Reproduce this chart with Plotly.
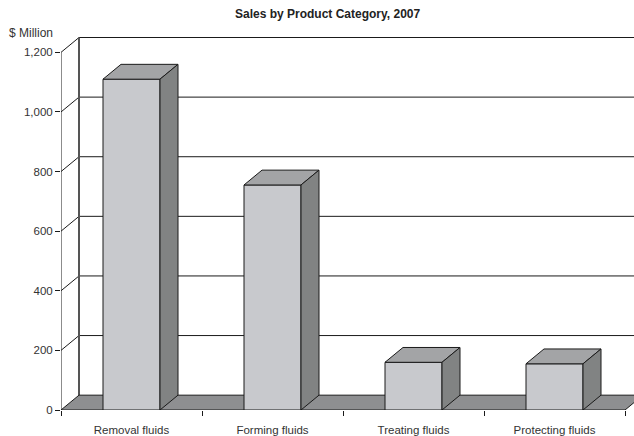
import plotly.graph_objects as go

# ---- data ----
categories = ["Removal fluids", "Forming fluids", "Treating fluids", "Protecting fluids"]
sales = [1110, 755, 160, 155]
y_ticks = [0, 200, 400, 600, 800, 1000, 1200]
y_tick_text = ["0", "200", "400", "600", "800", "1,000", "1,200"]

# ---- styling / geometry ----
W, H = 634, 436
ML, MR, MT, MB = 61, 0, 30, 22
plot_w = W - ML - MR
plot_h = H - MT - MB
px_per_cat = 141.0
x_lo = -0.5
x_hi = x_lo + plot_w / px_per_cat
y_lo, y_hi = 0, 1275
px_per_val = plot_h / (y_hi - y_lo)

DX = 18 / px_per_cat          # depth offset in x (category units)
DZ = 15 / px_per_val          # depth offset in y (value units)
HALF = 28.5 / px_per_cat      # half bar width

FRONT = "#c8c9cd"
TOP = "#a3a4a6"
SIDE = "#818383"
FLOOR = "#8e8f91"
INK = "#1a1a1a"
FONT = "Liberation Sans Narrow, Arial Narrow, Liberation Sans, sans-serif"

n = len(categories)
xpos = list(range(n))
x_left = x_lo
x_right = n - 0.5

shapes = []
# back wall gridlines and left-wall diagonals
for v in y_ticks[1:]:
    shapes.append(dict(type="line", layer="below", x0=x_left + DX, x1=x_hi + 1, y0=v + DZ, y1=v + DZ,
                       line=dict(color=INK, width=1)))
    shapes.append(dict(type="line", layer="below", x0=x_left, x1=x_left + DX, y0=v, y1=v + DZ,
                       line=dict(color=INK, width=1)))
# back vertical edge of the wall
shapes.append(dict(type="line", layer="below", x0=x_left + DX, x1=x_left + DX, y0=DZ, y1=y_ticks[-1] + DZ,
                   line=dict(color="#555555", width=2)))
# floor
shapes.append(dict(type="path", layer="below",
                   path=f"M {x_left},0 L {x_right},0 L {x_right + DX},{DZ} L {x_left + DX},{DZ} Z",
                   fillcolor=FLOOR, line=dict(color=INK, width=1)))
# front value axis line
shapes.append(dict(type="line", layer="above", x0=x_left, x1=x_left, y0=0, y1=y_ticks[-1],
                   line=dict(color=INK, width=1)))

fig = go.Figure()

# front faces
fig.add_trace(go.Bar(x=xpos, y=sales, width=2 * HALF, marker=dict(color=FRONT, line=dict(color=INK, width=1)),
                     hoverinfo="skip", showlegend=False))

# top and side faces
for c, v in zip(xpos, sales):
    tx = [c - HALF, c + HALF, c + HALF + DX, c - HALF + DX, c - HALF]
    ty = [v, v, v + DZ, v + DZ, v]
    fig.add_trace(go.Scatter(x=tx, y=ty, fill="toself", fillcolor=TOP, mode="lines",
                             line=dict(color=INK, width=1), hoverinfo="skip", showlegend=False))
    sx = [c + HALF, c + HALF, c + HALF + DX, c + HALF + DX, c + HALF]
    sy = [0, v, v + DZ, DZ, 0]
    fig.add_trace(go.Scatter(x=sx, y=sy, fill="toself", fillcolor=SIDE, mode="lines",
                             line=dict(color=INK, width=1), hoverinfo="skip", showlegend=False))

TICKFONT = dict(family=FONT, size=11.5, color="#333333")

fig.update_layout(
    width=W, height=H,
    margin=dict(l=ML, r=MR, t=MT, b=MB),
    paper_bgcolor="white", plot_bgcolor="white",
    shapes=shapes,
    font=dict(family=FONT, size=12, color="#333333"),
    xaxis=dict(range=[x_lo, x_hi], tickvals=xpos, ticktext=categories, ticks="", showgrid=False,
               zeroline=False, showline=False, ticklabelstandoff=11,
               minor=dict(tickvals=[i - 0.5 for i in range(n + 1)], ticks="outside", ticklen=5,
                          tickcolor=INK, showgrid=False),
               tickfont=TICKFONT),
    yaxis=dict(range=[y_lo, y_hi], tickvals=y_ticks, ticktext=y_tick_text, ticks="outside", ticklen=5,
               tickcolor=INK, showgrid=False, zeroline=False, showline=False,
               tickfont=TICKFONT),
    annotations=[
        dict(text="<b>Sales by Product Category, 2007</b>", xref="paper", yref="paper",
             x=(328 - ML) / plot_w, y=(plot_h + MT - 14) / plot_h,
             xanchor="center", yanchor="middle", showarrow=False,
             font=dict(family=FONT, size=12, color="#222222")),
        dict(text="$ Million", xref="paper", yref="paper",
             x=(55 - ML) / plot_w, y=(plot_h + MT - 33) / plot_h,
             xanchor="right", yanchor="middle", showarrow=False,
             font=dict(family=FONT, size=12, color="#333333")),
    ],
)

fig.write_html("out.html")
